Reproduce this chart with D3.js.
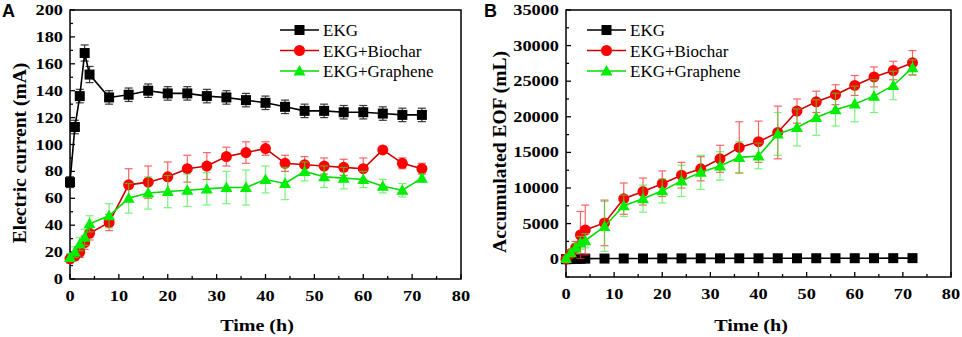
<!DOCTYPE html>
<html>
<head>
<meta charset="utf-8">
<script src="https://cdn.jsdelivr.net/npm/d3@7"></script>
<style>
  body { margin: 0; background: #fff; }
  svg text { font-family: "Liberation Serif", "Times New Roman", serif; }
  .tick-label { font-weight: bold; font-size: 15.5px; }
  .axis-title { font-weight: bold; font-size: 17px; }
  .axis-title-y { font-weight: bold; font-size: 19.5px; }
  .legend-text { font-size: 17px; }
  .panel-letter { font-family: "Liberation Sans", Arial, sans-serif !important; font-weight: bold; font-size: 18px; }
</style>
</head>
<body>
<svg id="chart" width="962" height="337"></svg>
<script>
// time points (h), same for both panels
const times = [0, 1, 2, 3, 4, 8, 12, 16, 20, 24, 28, 32, 36, 40, 44, 48, 52, 56, 60, 64, 68, 72];

// panel A: electric current (mA)
const ekgCurrent      = [72, 113, 136, 168, 152, 135, 137, 140, 138, 138, 136, 135, 133, 131, 128, 125, 125, 124, 124, 123, 122, 122];
const ekgCurrentErr   = [4, 5, 5, 6, 6, 5, 5, 5, 5, 5, 5, 5, 5, 5, 5, 5, 5, 5, 5, 5, 5, 5];
const biocharCurrent  = [15, 17, 20, 27, 34, 42, 70, 72, 76, 82, 84, 91, 94, 97, 86, 85, 84, 83, 82, 96, 86, 82];
const biocharCurrentErr = [3, 3, 4, 5, 5, 6, 12, 12, 11, 10, 10, 7, 8, 5, 6, 6, 6, 6, 8, 1, 4, 4];
const grapheneCurrent = [16, 20, 26, 31, 41, 47, 60, 64, 65, 66, 67, 68, 68, 74, 71, 80, 76, 75, 74, 69, 66, 75];
const grapheneCurrentErr = [3, 4, 5, 6, 6, 9, 11, 12, 12, 12, 12, 12, 13, 10, 12, 7, 8, 8, 6, 5, 5, 3];

// panel B: accumulated EOF (mL)
const ekgEOF      = [0, 20, 40, 60, 80, 90, 100, 105, 110, 115, 120, 120, 125, 125, 130, 130, 135, 135, 140, 140, 145, 150];
const ekgEOFErr   = [0, 0, 0, 0, 0, 0, 0, 0, 0, 0, 0, 0, 0, 0, 0, 0, 0, 0, 0, 0, 0, 0];
const biocharEOF  = [0, 800, 1600, 3400, 4100, 5100, 8500, 9500, 10600, 11800, 12700, 14100, 15700, 16500, 17800, 20800, 22100, 23100, 24400, 25600, 26500, 27600];
const biocharEOFErr = [200, 500, 900, 3300, 3500, 3200, 2200, 1900, 1800, 1800, 1700, 1900, 3600, 2900, 3700, 1700, 1500, 1400, 1400, 1400, 1300, 1700];
const grapheneEOF = [100, 900, 1600, 2300, 2600, 4600, 7500, 8500, 9600, 11000, 12200, 13100, 14300, 14500, 17600, 18500, 19900, 21000, 21800, 22900, 24400, 26900];
const grapheneEOFErr = [200, 400, 600, 900, 1000, 3500, 1500, 1900, 1700, 2200, 2400, 2000, 2200, 1800, 3000, 2600, 2500, 2300, 2500, 2300, 2000, 1100];

const seriesNames = ["EKG", "EKG+Biochar", "EKG+Graphene"];
const seriesStyle = [
  { line: "#000000", fill: "#000000", err: "#222222", errOpacity: 0.9, shape: "square" },
  { line: "#cc0000", fill: "#ff0000", err: "#ff3030", errOpacity: 0.75, shape: "circle" },
  { line: "#00dd00", fill: "#00ee00", err: "#33ee33", errOpacity: 0.65, shape: "triangle" }
];

// the source figure's text is a bit wider than the font, stretch horizontally
const stretch = 1.18;

const svg = d3.select("#chart");

function stretchedText(g, cls, x, y, anchor, str) {
  return g.append("text").attr("class", cls)
    .attr("transform", `translate(${x}, ${y}) scale(${stretch}, 1)`)
    .attr("text-anchor", anchor).text(str);
}

function drawPanel(p) {
  const g = svg.append("g");
  const x = d3.scaleLinear().domain([0, 80]).range([p.left, p.right]);
  const y = d3.scaleLinear().domain(p.yDomain).range([p.bottom, p.top]);

  // frame
  g.append("rect")
    .attr("x", p.left).attr("y", p.top)
    .attr("width", p.right - p.left).attr("height", p.bottom - p.top)
    .attr("fill", "none").attr("stroke", "#000").attr("stroke-width", 1.5);

  // x ticks (inward)
  d3.range(0, 81, 5).forEach(v => {
    const major = v % 10 === 0;
    g.append("line")
      .attr("x1", x(v)).attr("x2", x(v))
      .attr("y1", p.bottom).attr("y2", p.bottom - (major ? 5 : 3))
      .attr("stroke", "#000").attr("stroke-width", 1.3);
    if (major) stretchedText(g, "tick-label", x(v), p.bottom + 22, "middle", v);
  });

  // y ticks (inward)
  d3.range(p.yDomain[0], p.yDomain[1] + 1, p.yMinor).forEach(v => {
    const major = v % p.yMajor === 0 && v >= 0;
    g.append("line")
      .attr("x1", p.left).attr("x2", p.left + (major ? 5 : 3))
      .attr("y1", y(v)).attr("y2", y(v))
      .attr("stroke", "#000").attr("stroke-width", 1.3);
    if (major) stretchedText(g, "tick-label", p.left - 7, y(v) + 5, "end", v);
  });

  // axis titles
  stretchedText(g, "axis-title", p.xTitleX, 331, "middle", "Time (h)");
  g.append("text").attr("class", "axis-title-y")
    .attr("transform", `translate(${p.yTitleX}, ${p.yTitleY}) rotate(-90)`)
    .attr("text-anchor", "middle").text(p.yTitle);

  g.append("text").attr("class", "panel-letter")
    .attr("x", p.letterX).attr("y", 17).text(p.letter);

  const line = d3.line().x(d => x(d.t)).y(d => y(d.v));

  p.series.forEach((s, i) => {
    const st = seriesStyle[i];
    const pts = times.map((t, j) => ({ t: t, v: s.values[j], e: s.errors[j] }));
    const sg = g.append("g");

    // error bars
    const eb = sg.append("g").attr("stroke", st.err).attr("stroke-width", 1.2)
      .attr("opacity", st.errOpacity);
    pts.filter(d => d.e > 0).forEach(d => {
      eb.append("line").attr("x1", x(d.t)).attr("x2", x(d.t))
        .attr("y1", y(d.v - d.e)).attr("y2", y(d.v + d.e));
      [d.v - d.e, d.v + d.e].forEach(c => {
        eb.append("line").attr("x1", x(d.t) - 4).attr("x2", x(d.t) + 4)
          .attr("y1", y(c)).attr("y2", y(c));
      });
    });

    sg.append("path").datum(pts)
      .attr("d", line).attr("fill", "none")
      .attr("stroke", st.line).attr("stroke-width", 1.6);

    pts.forEach(d => drawMarker(sg, st, x(d.t), y(d.v)));
  });

  // legend
  const lg = g.append("g");
  seriesNames.forEach((name, i) => {
    const st = seriesStyle[i];
    const ly = p.legendY + i * 20.5;
    lg.append("line")
      .attr("x1", p.legendX).attr("x2", p.legendX + 39)
      .attr("y1", ly).attr("y2", ly)
      .attr("stroke", st.line).attr("stroke-width", 1.6);
    drawMarker(lg, st, p.legendX + 19.5, ly);
    lg.append("text").attr("class", "legend-text")
      .attr("x", p.legendX + 43).attr("y", ly + 6).text(name);
  });
}

function drawMarker(sel, st, cx, cy) {
  if (st.shape === "square") {
    sel.append("rect").attr("x", cx - 5).attr("y", cy - 5)
      .attr("width", 10).attr("height", 10).attr("fill", st.fill);
  } else if (st.shape === "circle") {
    sel.append("circle").attr("cx", cx).attr("cy", cy).attr("r", 5.5).attr("fill", st.fill);
  } else {
    sel.append("path")
      .attr("d", `M${cx},${cy - 6}L${cx + 6},${cy + 4.5}L${cx - 6},${cy + 4.5}Z`)
      .attr("fill", st.fill);
  }
}

drawPanel({
  left: 70, right: 461, top: 10, bottom: 279,
  yDomain: [0, 200], yMajor: 20, yMinor: 10,
  yTitle: "Electric current (mA)", yTitleX: 26, yTitleY: 153,
  xTitleX: 257, letter: "A", letterX: 2,
  legendX: 280, legendY: 30,
  series: [
    { values: ekgCurrent, errors: ekgCurrentErr },
    { values: biocharCurrent, errors: biocharCurrentErr },
    { values: grapheneCurrent, errors: grapheneCurrentErr }
  ]
});

drawPanel({
  left: 566, right: 951, top: 10, bottom: 277,
  yDomain: [-2500, 35000], yMajor: 5000, yMinor: 2500,
  yTitle: "Accumulated EOF (mL)", yTitleX: 506, yTitleY: 152,
  xTitleX: 751, letter: "B", letterX: 484,
  legendX: 587, legendY: 30,
  series: [
    { values: ekgEOF, errors: ekgEOFErr },
    { values: biocharEOF, errors: biocharEOFErr },
    { values: grapheneEOF, errors: grapheneEOFErr }
  ]
});
</script>
</body>
</html>
